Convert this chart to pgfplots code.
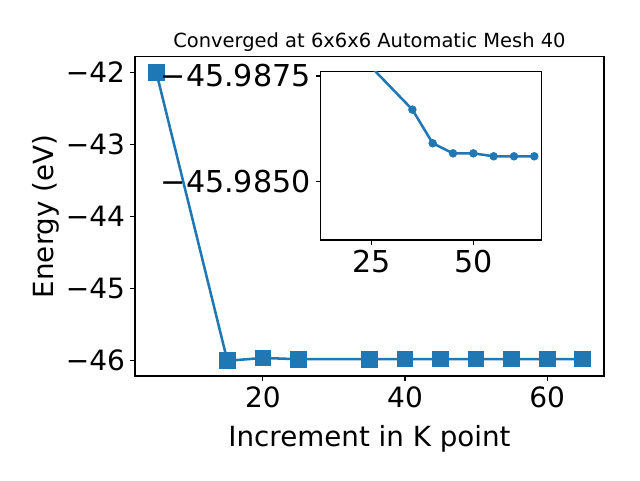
\documentclass[border=0pt]{standalone}
\usepackage{pgfplots}
\pgfplotsset{compat=1.18}
\usepackage{fontspec}
\setmainfont{DejaVu Sans}
\definecolor{c0}{HTML}{1F77B4}
\pgfplotstableread{
x y
5 -42.0
15 -46.01
20 -45.97
25 -45.9877
35 -45.9867
40 -45.9859
45 -45.98566
50 -45.98566
55 -45.98559
60 -45.98559
65 -45.98559
}\data
\pgfplotstableread{
x y
25 -45.9877
35 -45.9867
40 -45.9859
45 -45.98566
50 -45.98566
55 -45.98559
60 -45.98559
65 -45.98559
}\inset
\begin{document}
\begin{tikzpicture}
\begin{axis}[
  at={(0,0)}, anchor=south west,
  width=351.75pt, height=239.5pt, scale only axis,
  xmin=2, xmax=68, ymin=-46.221, ymax=-41.7835,
  xtick={20,40,60}, xticklabels={20,40,60},
  ytick={-46,-45,-44,-43,-42}, yticklabels={−46,−45,−44,−43,−42},
  tick align=outside, major tick length=3.65pt,
  xtick pos=left, ytick pos=left,
  tick style={black, line width=0.83pt},
  axis line style={line width=0.83pt},
  ticklabel style={font=\fontsize{21}{25}\selectfont},
  xticklabel style={inner sep=0pt, anchor=base, yshift=-19.8pt},
  yticklabel style={inner sep=0pt, anchor=east, xshift=-3.7pt},
  label style={font=\fontsize{20.8}{25}\selectfont, inner sep=0pt},
  xlabel={Increment in K point},
  xlabel style={at={(axis description cs:0.5,-0.2192)}, anchor=base},
  ylabel={Energy (eV)},
  ylabel style={at={(axis description cs:-0.1743,0.5)}, anchor=base},
  every axis title shift=0pt,
  title={Converged at 6x6x6 Automatic Mesh 40},
  title style={at={(axis description cs:0.5,1.0282)}, anchor=base, inner sep=0pt, font=\fontsize{14.6}{17}\selectfont},
]
\addplot[c0, line width=1.9pt, mark=square*, mark size=5.35pt, mark options={solid, fill=c0, draw=c0}] table[x=x,y=y] {\data};
\end{axis}
\begin{axis}[
  at={(139.3pt,102pt)}, anchor=south west,
  width=165.75pt, height=126.2pt, scale only axis,
  axis background/.style={fill=white},
  xmin=12.45, xmax=66.83, ymin=-45.9876, ymax=-45.9836,
  y dir=reverse,
  xtick={25,50}, xticklabels={25,50},
  ytick={-45.9875,-45.9850}, yticklabels={−45.9875,−45.9850},
  tick align=outside, major tick length=3.65pt,
  xtick pos=left, ytick pos=left,
  tick style={black, line width=0.83pt},
  axis line style={line width=0.83pt},
  ticklabel style={font=\fontsize{22.6}{27}\selectfont},
  xticklabel style={inner sep=0pt, anchor=base, yshift=-20.8pt},
  yticklabel style={inner sep=0pt, anchor=east, xshift=-3.7pt},
  clip=true,
]
\addplot[c0, line width=1.9pt, mark=*, mark size=2.9pt, mark options={solid, fill=c0, draw=c0, line width=0.5pt}] table[x=x,y=y] {\inset};
\end{axis}
\pgfresetboundingbox
\path[use as bounding box] (-101.25pt,-78pt) rectangle (378.75pt,282pt);
\end{tikzpicture}
\end{document}
